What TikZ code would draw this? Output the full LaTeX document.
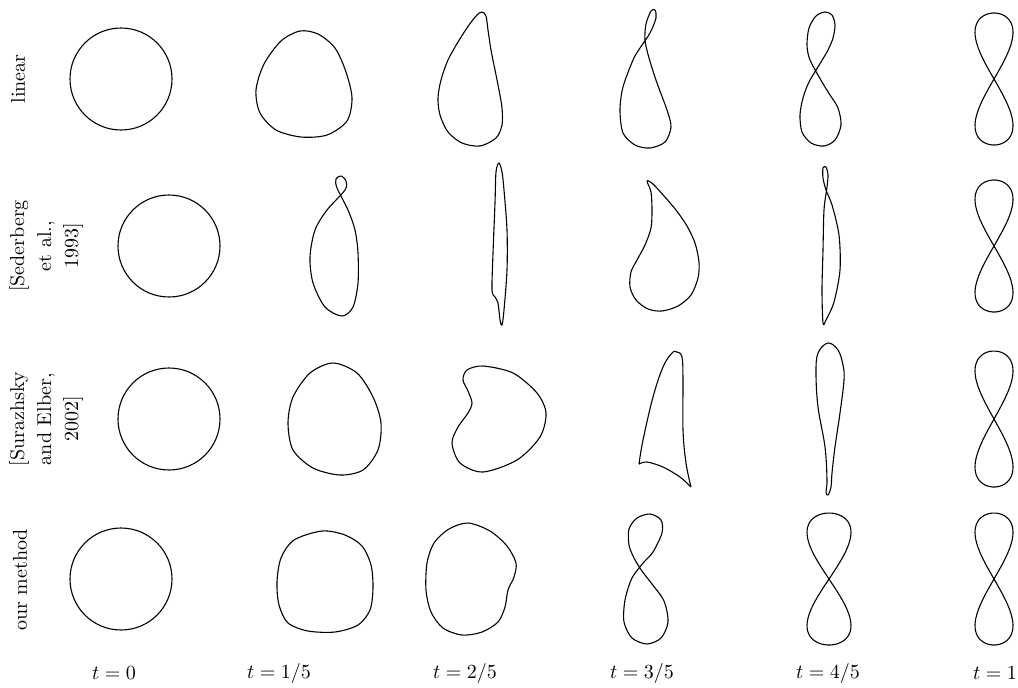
\documentclass[tikz,border=0pt]{standalone}
\begin{document}
\begin{tikzpicture}[x=0.5pt,y=-0.5pt,
  curve/.style={line width=0.55pt,line join=round},
  rowlab/.style={rotate=90,align=center,font=\fontsize{10}{13.5}\selectfont,inner sep=0pt},
  collab/.style={font=\fontsize{10}{12}\selectfont,inner sep=0pt}]
\useasboundingbox (0,0) rectangle (1018,687);

% row labels
\node[rowlab] (l1) at (18,79) {linear};
\node[rowlab] (l2) at (46,246) {[Sederberg\\et al.,\\1993]};
\node[rowlab] (l3) at (46,419) {[Surazhsky\\and Elber,\\2002]};
\node[rowlab] (l4) at (20,580) {our method};

% column labels
\node[collab] (c0) at (114,673) {$t=0$};
\node[collab] (c1) at (279,673) {$t=1/5$};
\node[collab] (c2) at (465,673) {$t=2/5$};
\node[collab] (c3) at (642,673) {$t=3/5$};
\node[collab] (c4) at (828,673) {$t=4/5$};
\node[collab] (c5) at (995,673) {$t=1$};

% ---------- row 1 : linear
\draw[curve] (121,79) circle[radius=51];
\draw[curve] plot[smooth cycle] coordinates {(300,31) (318,34) (335,48) (346,72) (352,98) (347,121) (327,135) (301,137) (276,130) (260,113) (256,90) (264,64) (281,41)};
\draw[curve] plot[smooth cycle, tension=0.5] coordinates {(482,12) (486,16) (488,30) (491,50) (495,70) (499,90) (502,108) (502,125) (496,138) (480,146) (462,143) (448,132) (440,115) (438,98) (441,80) (448,60) (458,42) (469,25) (477,15)};
\draw[curve] plot[smooth cycle] coordinates {(650,33) (640,48) (633,60) (623,87) (620,110) (623,133) (635,145) (650,148) (665,142) (671,127) (667,110) (657,83) (649,58) (645,40) (646,24) (651,11) (655,10) (656,18)};
\draw[curve] plot[smooth cycle] coordinates {(810,60) (807,45) (809,28) (816,16) (825,12) (832,15) (835,25) (833,38) (828,50) (821,62) (809,82) (803,98) (800,115) (802,132) (811,143) (824,146) (835,140) (841,125) (838,108) (830,95) (822,82)};
\draw[curve] plot[domain=0:356, samples=90, smooth cycle, variable=\s] ({994+19*sin(2*\s)},{79+66*sin(\s)});

% ---------- row 2 : Sederberg
\draw[curve] (169,246) circle[radius=51];
\draw[curve] plot[smooth cycle] coordinates {(337,188) (336,179) (341,176) (346,181) (345,190) (327,210) (315,230) (310,257) (313,283) (325,307) (342,316) (353,307) (358,283) (358,253) (355,230) (348,210)};
\draw[curve] plot[smooth cycle, tension=0.5] coordinates {(499,163) (496,172) (495,203) (493,253) (492,290) (495,297) (498,303) (500,320) (502,325) (504,310) (507,270) (507,230) (504,190) (502,172)};
\draw[curve] plot[smooth cycle, tension=0.5] coordinates {(647,181) (651,192) (652,210) (651,228) (645,245) (637,260) (631,272) (630,287) (636,300) (648,309) (662,311) (678,306) (691,295) (698,278) (699,262) (695,243) (687,226) (676,210) (664,196) (653,184)};
\draw[curve] plot[smooth cycle, tension=0.5] coordinates {(823,168) (826,167) (828,175) (827,187) (824,210) (823,250) (822,290) (823,323) (826,320) (834,302) (840,270) (839,235) (832,205) (826,190) (823,178)};
\draw[curve] plot[domain=0:356, samples=90, smooth cycle, variable=\s] ({994+19*sin(2*\s)},{246+66*sin(\s)});

% ---------- row 3 : Surazhsky & Elber
\draw[curve] (169,419) circle[radius=51];
\draw[curve] plot[smooth cycle] coordinates {(333,363) (357,373) (373,397) (381,423) (378,450) (363,470) (340,475) (313,468) (293,450) (288,423) (293,397) (310,373)};
\draw[curve] plot[smooth cycle] coordinates {(467,370) (483,366) (513,373) (537,393) (546,413) (540,437) (517,460) (483,472) (460,463) (452,443) (458,427) (468,413) (472,403) (468,391) (463,380)};
\draw[curve] plot[smooth, tension=0.6] coordinates {(639,464) (643,440) (653,397) (663,367) (672,353) (677,352) (682,357) (683,380) (683,430) (686,463) (691,487)}
  plot[smooth] coordinates {(691,487) (680,477) (663,467) (647,462) (639,464)};
\draw[curve] plot[smooth cycle, tension=0.6] coordinates {(828,343) (838,350) (843,365) (844,380) (840,413) (835,447) (832,473) (831,487) (828,495) (826,492) (827,480) (825,447) (818,407) (816,373) (818,353)};
\draw[curve] plot[domain=0:356, samples=90, smooth cycle, variable=\s] ({994+19*sin(2*\s)},{419+68*sin(\s)});

% ---------- row 4 : our method
\draw[curve] (121,579) circle[radius=51];
\draw[curve] plot[smooth cycle] coordinates {(322,531) (345,535) (362,546) (371,565) (373,588) (370,610) (358,625) (335,632) (308,631) (288,623) (279,605) (277,582) (281,558) (294,540)};
\draw[curve] plot[smooth cycle] coordinates {(468,523) (490,531) (507,546) (516,563) (514,577) (508,590) (505,607) (498,622) (482,632) (462,635) (443,628) (431,612) (426,590) (427,563) (434,543) (449,529)};
\draw[curve] plot[smooth cycle] coordinates {(634,558) (629,545) (629,529) (637,518) (650,514) (661,520) (662,533) (653,552) (644,562) (632,578) (625,600) (624,622) (632,638) (647,644) (661,638) (668,622) (664,601) (652,584) (642,571)};
\draw[curve] plot[domain=0:356, samples=90, smooth cycle, variable=\s] ({829+22*sin(2*\s)},{579+66*sin(\s)});
\draw[curve] plot[domain=0:356, samples=90, smooth cycle, variable=\s] ({994+19*sin(2*\s)},{579+66*sin(\s)});
\end{tikzpicture}
\end{document}
